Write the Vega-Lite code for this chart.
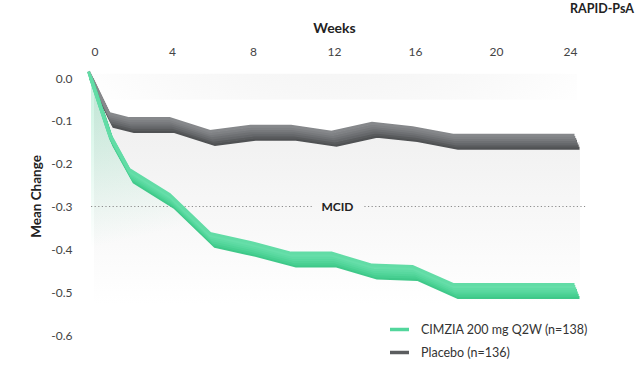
{
  "$schema": "https://vega.github.io/schema/vega-lite/v6.json",
  "width": 486,
  "height": 257,
  "autosize": {"type": "none"},
  "padding": {"left": 91, "top": 78, "right": 67, "bottom": 34},
  "background": "#ffffff",
  "config": {"view": {"stroke": null}, "font": "Lato"},
  "title": {"text": "RAPID-PsA", "anchor": "end", "frame": "group", "dx": 57, "fontSize": 12.5, "fontWeight": "bold", "color": "#222222", "font": "Lato", "offset": 6},
  "datasets": {
    "series": [
      {"group": "CIMZIA 200 mg Q2W (n=138)", "week": 0, "value": 0},
      {"group": "CIMZIA 200 mg Q2W (n=138)", "week": 1, "value": -0.142},
      {"group": "CIMZIA 200 mg Q2W (n=138)", "week": 2, "value": -0.228},
      {"group": "CIMZIA 200 mg Q2W (n=138)", "week": 4, "value": -0.287},
      {"group": "CIMZIA 200 mg Q2W (n=138)", "week": 6, "value": -0.378},
      {"group": "CIMZIA 200 mg Q2W (n=138)", "week": 8, "value": -0.399},
      {"group": "CIMZIA 200 mg Q2W (n=138)", "week": 10, "value": -0.424},
      {"group": "CIMZIA 200 mg Q2W (n=138)", "week": 12, "value": -0.424},
      {"group": "CIMZIA 200 mg Q2W (n=138)", "week": 14, "value": -0.452},
      {"group": "CIMZIA 200 mg Q2W (n=138)", "week": 16, "value": -0.455},
      {"group": "CIMZIA 200 mg Q2W (n=138)", "week": 18, "value": -0.497},
      {"group": "CIMZIA 200 mg Q2W (n=138)", "week": 20, "value": -0.497},
      {"group": "CIMZIA 200 mg Q2W (n=138)", "week": 24, "value": -0.497},
      {"group": "Placebo (n=136)", "week": 0, "value": 0},
      {"group": "Placebo (n=136)", "week": 1, "value": -0.098},
      {"group": "Placebo (n=136)", "week": 2, "value": -0.11},
      {"group": "Placebo (n=136)", "week": 4, "value": -0.11},
      {"group": "Placebo (n=136)", "week": 6, "value": -0.14},
      {"group": "Placebo (n=136)", "week": 8, "value": -0.128},
      {"group": "Placebo (n=136)", "week": 10, "value": -0.128},
      {"group": "Placebo (n=136)", "week": 12, "value": -0.142},
      {"group": "Placebo (n=136)", "week": 14, "value": -0.121},
      {"group": "Placebo (n=136)", "week": 16, "value": -0.131},
      {"group": "Placebo (n=136)", "week": 18, "value": -0.149},
      {"group": "Placebo (n=136)", "week": 20, "value": -0.149},
      {"group": "Placebo (n=136)", "week": 24, "value": -0.149}
    ],
    "mcid": [
      {"week": 0, "week2": 10.9, "value": -0.3},
      {"week": 13.5, "week2": 24.4, "value": -0.3}
    ],
    "mcidLabel": [
      {"week": 12.17, "value": -0.3, "label": "MCID"}
    ],
    "band": [
      {"week": 0, "week2": 24, "value": 0.01, "value2": -0.05}
    ]
  },
  "encoding": {
    "x": {"field": "week", "type": "quantitative", "scale": {"domain": [0, 24], "nice": false},
      "axis": {"orient": "top", "values": [0, 4, 8, 12, 16, 20, 24], "domain": false, "ticks": false, "grid": false, "labelColor": "#444444", "labelFont": "Lato", "labelFontSize": 12, "labelPadding": 20, "title": "Weeks", "titleFont": "Lato", "titleFontSize": 14, "titleFontWeight": "bold", "titleColor": "#222222", "titlePadding": 10}},
    "y": {"field": "value", "type": "quantitative", "scale": {"domain": [-0.6, 0], "nice": false, "zero": false},
      "axis": {"values": [0, -0.1, -0.2, -0.3, -0.4, -0.5, -0.6], "format": ".1f", "labelExpr": "replace(datum.label, '\u2212', '-')", "domain": false, "ticks": false, "grid": false, "labelColor": "#444444", "labelFont": "Lato", "labelFontSize": 12, "labelPadding": 19, "title": "Mean Change", "titleFont": "Lato", "titleFontSize": 13.5, "titleFontWeight": "bold", "titleColor": "#222222", "titlePadding": 7, "titleY": 118}}
  },
  "layer": [
    {
      "data": {"name": "band"},
      "mark": {"type": "rect", "fill": {"gradient": "radial", "x1": 0.5, "y1": 0, "r1": 0, "x2": 0.5, "y2": 0, "r2": 0.75, "stops": [{"offset": 0, "color": "#e6e6e6"}, {"offset": 1, "color": "#ffffff"}]}},
      "encoding": {"x2": {"field": "week2"}, "y2": {"field": "value2"}}
    },
    {
      "data": {"name": "series"},
      "transform": [{"filter": "datum.group === 'Placebo (n=136)'"}],
      "mark": {"type": "area", "xOffset": 3, "fill": {"gradient": "linear", "x1": 0, "y1": 0, "x2": 0, "y2": 1, "stops": [{"offset": 0, "color": "#ececec"}, {"offset": 1, "color": "#ffffff"}]}},
      "encoding": {"y2": {"datum": -0.53}}
    },
    {
      "data": {"name": "series"},
      "transform": [{"filter": "datum.group === 'CIMZIA 200 mg Q2W (n=138)'"}],
      "mark": {"type": "area", "fill": {"gradient": "linear", "x1": 0, "y1": 0, "x2": 0.3, "y2": 0.6, "stops": [{"offset": 0, "color": "rgba(79,213,154,0.30)"}, {"offset": 1, "color": "rgba(79,213,154,0)"}]}},
      "encoding": {"y2": {"datum": -0.53}}
    },
    {
      "data": {"name": "mcid"},
      "mark": {"type": "rule", "color": "#8c8c8c", "strokeWidth": 1.2, "strokeDash": [1.2, 2.4]},
      "encoding": {"x2": {"field": "week2"}}
    },
    {
      "data": {"name": "mcidLabel"},
      "mark": {"type": "text", "font": "Lato", "fontSize": 12, "fontWeight": "bold", "color": "#222222", "align": "center", "baseline": "middle"},
      "encoding": {"text": {"field": "label"}}
    },
    {
      "data": {"name": "series"},
      "mark": {"type": "line", "strokeWidth": 4},
      "encoding": {"color": {"field": "group", "type": "nominal", "scale": {"domain": ["CIMZIA 200 mg Q2W (n=138)", "Placebo (n=136)"], "range": ["#52d69c", "#5b5d5f"]},
        "legend": {"title": null, "orient": "none", "legendX": 297, "legendY": 240, "symbolType": "stroke", "symbolSize": 361, "symbolStrokeWidth": 3.5, "labelFont": "Lato", "labelFontSize": 12.5, "labelColor": "#333333", "labelOffset": 10, "labelLimit": 0, "rowPadding": 4}}}
    },
    {"data": {"name": "series"}, "transform": [{"filter": "datum.group === 'Placebo (n=136)'"}], "mark": {"type": "line", "color": "#505254", "strokeWidth": 3, "xOffset": 2.5, "yOffset": 6.5, "strokeJoin": "miter"}},
    {"data": {"name": "series"}, "transform": [{"filter": "datum.group === 'Placebo (n=136)'"}], "mark": {"type": "line", "color": "#595b5d", "strokeWidth": 3, "xOffset": 1.7, "yOffset": 4.3, "strokeJoin": "miter"}},
    {"data": {"name": "series"}, "transform": [{"filter": "datum.group === 'Placebo (n=136)'"}], "mark": {"type": "line", "color": "#65676a", "strokeWidth": 3, "xOffset": 0.8, "yOffset": 2.2, "strokeJoin": "miter"}},
    {"data": {"name": "series"}, "transform": [{"filter": "datum.group === 'Placebo (n=136)'"}], "mark": {"type": "line", "color": "#6e7073", "strokeWidth": 3, "xOffset": 0, "yOffset": 0, "strokeJoin": "miter"}},
    {"data": {"name": "series"}, "transform": [{"filter": "datum.group === 'Placebo (n=136)'"}], "mark": {"type": "line", "color": "#77797c", "strokeWidth": 3, "xOffset": -0.8, "yOffset": -2.2, "strokeJoin": "miter"}},
    {"data": {"name": "series"}, "transform": [{"filter": "datum.group === 'Placebo (n=136)'"}], "mark": {"type": "line", "color": "#7f8184", "strokeWidth": 3, "xOffset": -1.7, "yOffset": -4.3, "strokeJoin": "miter"}},
    {"data": {"name": "series"}, "transform": [{"filter": "datum.group === 'Placebo (n=136)'"}], "mark": {"type": "line", "color": "#86888b", "strokeWidth": 3, "xOffset": -2.5, "yOffset": -6.5, "strokeJoin": "miter"}},
    {"data": {"name": "series"}, "transform": [{"filter": "datum.group === 'CIMZIA 200 mg Q2W (n=138)'"}], "mark": {"type": "line", "color": "#3fc889", "strokeWidth": 3, "xOffset": 2.5, "yOffset": 6.5, "strokeJoin": "miter"}},
    {"data": {"name": "series"}, "transform": [{"filter": "datum.group === 'CIMZIA 200 mg Q2W (n=138)'"}], "mark": {"type": "line", "color": "#47cf91", "strokeWidth": 3, "xOffset": 1.7, "yOffset": 4.3, "strokeJoin": "miter"}},
    {"data": {"name": "series"}, "transform": [{"filter": "datum.group === 'CIMZIA 200 mg Q2W (n=138)'"}], "mark": {"type": "line", "color": "#50d498", "strokeWidth": 3, "xOffset": 0.8, "yOffset": 2.2, "strokeJoin": "miter"}},
    {"data": {"name": "series"}, "transform": [{"filter": "datum.group === 'CIMZIA 200 mg Q2W (n=138)'"}], "mark": {"type": "line", "color": "#58d89f", "strokeWidth": 3, "xOffset": 0, "yOffset": 0, "strokeJoin": "miter"}},
    {"data": {"name": "series"}, "transform": [{"filter": "datum.group === 'CIMZIA 200 mg Q2W (n=138)'"}], "mark": {"type": "line", "color": "#5fdba4", "strokeWidth": 3, "xOffset": -0.8, "yOffset": -2.2, "strokeJoin": "miter"}},
    {"data": {"name": "series"}, "transform": [{"filter": "datum.group === 'CIMZIA 200 mg Q2W (n=138)'"}], "mark": {"type": "line", "color": "#66dea9", "strokeWidth": 3, "xOffset": -1.7, "yOffset": -4.3, "strokeJoin": "miter"}},
    {"data": {"name": "series"}, "transform": [{"filter": "datum.group === 'CIMZIA 200 mg Q2W (n=138)'"}], "mark": {"type": "line", "color": "#62dca6", "strokeWidth": 3, "xOffset": -2.5, "yOffset": -6.5, "strokeJoin": "miter"}}
  ]
}
